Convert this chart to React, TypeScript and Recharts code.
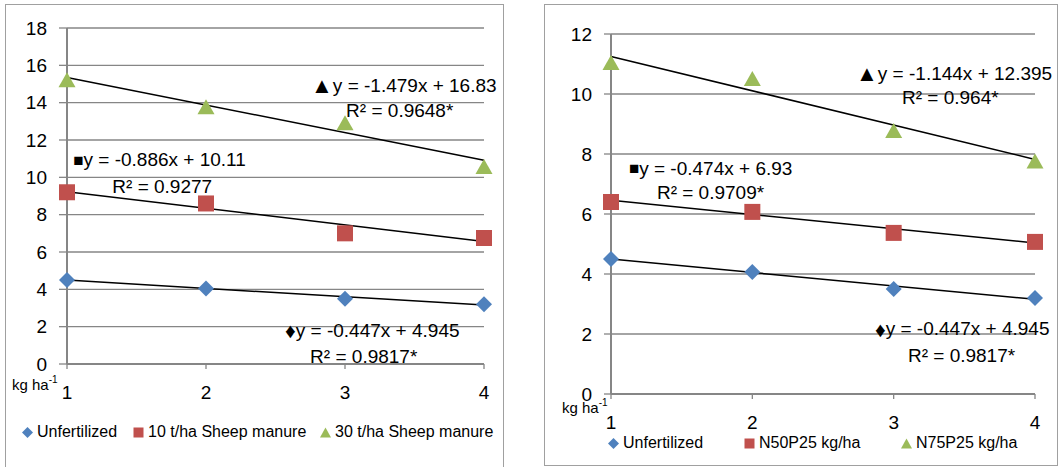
import React from 'react';
import {
	ScatterChart,
	Scatter,
	XAxis,
	YAxis,
	CartesianGrid,
	ReferenceLine,
	ReferenceDot,
	Legend,
	Label
} from 'recharts';

const xValues = [1, 2, 3, 4];
const xTicks = [1, 2, 3, 4];

const leftNames = ['Unfertilized', '10 t/ha Sheep manure', '30 t/ha Sheep manure'];
const leftUnfertilized = [4.5, 4.05, 3.5, 3.2];
const leftSheep10 = [9.2, 8.6, 7.0, 6.75];
const leftSheep30 = [15.2, 13.75, 12.9, 10.55];
const leftSlopes = [-0.447, -0.886, -1.479];
const leftIntercepts = [4.945, 10.11, 16.83];
const leftMarks = ['♦', '■', '▲'];
const leftEquations = ['y = -0.447x + 4.945', 'y = -0.886x + 10.11', 'y = -1.479x + 16.83'];
const leftR2 = ['R² = 0.9817*', 'R² = 0.9277', 'R² = 0.9648*'];
const leftYTicks = [0, 2, 4, 6, 8, 10, 12, 14, 16, 18];

const rightNames = ['Unfertilized', 'N50P25 kg/ha', 'N75P25 kg/ha'];
const rightUnfertilized = [4.5, 4.07, 3.5, 3.2];
const rightN50P25 = [6.4, 6.07, 5.37, 5.07];
const rightN75P25 = [11.03, 10.5, 8.77, 7.75];
const rightSlopes = [-0.447, -0.474, -1.144];
const rightIntercepts = [4.945, 6.93, 12.395];
const rightEquations = ['y = -0.447x + 4.945', 'y = -0.474x + 6.93', 'y = -1.144x + 12.395'];
const rightR2 = ['R² = 0.9817*', 'R² = 0.9709*', 'R² = 0.964*'];
const rightYTicks = [0, 2, 4, 6, 8, 10, 12];

// where the equation / R² text starts, in data units: [eqX, eqY, r2X, r2Y]
const leftNoteSpots = [
	[2.569, 1.82, 2.749, 0.4],
	[1.045, 10.93, 1.326, 9.53],
	[2.756, 14.94, 3.008, 13.6]
];
const rightNoteSpots = [
	[2.868, 2.17, 3.101, 1.3],
	[1.127, 7.53, 1.325, 6.73],
	[2.734, 10.7, 3.059, 9.87]
];

const colors = ['#4F81BD', '#C0504D', '#9BBB59'];
const GRID = '#868686';
const FONT = '"Liberation Sans", Arial, sans-serif';

const Diamond = (props: any) => {
	const { cx, cy, fill } = props;
	const r = 8;
	return (
		<polygon
			points={`${cx},${cy - r} ${cx + r},${cy} ${cx},${cy + r} ${cx - r},${cy}`}
			fill={fill}
		/>
	);
};

const Square = (props: any) => {
	const { cx, cy, fill } = props;
	return <rect x={cx - 8} y={cy - 8} width={16} height={16} fill={fill} />;
};

const Triangle = (props: any) => {
	const { cx, cy, fill } = props;
	return (
		<polygon
			points={`${cx},${cy - 8} ${cx + 8.5},${cy + 7} ${cx - 8.5},${cy + 7}`}
			fill={fill}
		/>
	);
};

const shapes = [Diamond, Square, Triangle];

const LegendIcon = ({ idx }: { idx: number }) => {
	const c = colors[idx];
	return (
		<svg width={11} height={11} style={{ marginRight: 4 }}>
			{idx === 0 && <polygon points="5.5,0 11,5.5 5.5,11 0,5.5" fill={c} />}
			{idx === 1 && <rect x={0.5} y={0.5} width={10} height={10} fill={c} />}
			{idx === 2 && <polygon points="5.5,0.5 11,10.5 0,10.5" fill={c} />}
		</svg>
	);
};

const makeLegend = (names: string[], lefts: number[]) => () => (
	<div style={{ position: 'relative', height: 20, fontFamily: FONT, fontSize: 16 }}>
		{names.map((n, i) => (
			<div
				key={n}
				style={{
					position: 'absolute',
					left: lefts[i],
					top: 0,
					height: 20,
					display: 'flex',
					alignItems: 'center',
					whiteSpace: 'nowrap',
					color: '#000'
				}}
			>
				<LegendIcon idx={i} />
				{n}
			</div>
		))}
	</div>
);

const markSize = [21, 17, 22];

const NoteText = (text: string, mark?: number) => (props: any) => (
	<text
		x={props.cx}
		y={props.cy}
		fontFamily={FONT}
		fontSize={19}
		fill="#000"
		dominantBaseline="central"
		textAnchor="start"
	>
		{mark !== undefined && <tspan fontSize={markSize[mark]}>{leftMarks[mark]}</tspan>}
		{text}
	</text>
);

const KgLabel = (dx: number, dy: number) => (props: any) => {
	const { x, y } = props.viewBox;
	return (
		<text x={x + dx} y={y + dy} fontFamily={FONT} fontSize={15} fill="#000" dominantBaseline="central">
			kg ha
			<tspan fontSize={10} dy={-5}>
				-1
			</tspan>
		</text>
	);
};

type PanelProps = {
	left: number;
	width: number;
	top: number;
	right: number;
	axisWidth: number;
	xAxisHeight: number;
	yMax: number;
	yTicks: number[];
	tickSize: number;
	series: number[][];
	names: string[];
	slopes: number[];
	intercepts: number[];
	equations: string[];
	r2: string[];
	spots: number[][];
	legendTop: number;
	legendLefts: number[];
	kg: [number, number];
};

const Panel = (p: PanelProps) => {
	return (
		<div style={{ position: 'absolute', left: p.left, top: 0 }}>
			<ScatterChart
				width={p.width}
				height={467}
				margin={{ top: p.top, right: p.right, bottom: 0, left: 0 }}
			>
				<CartesianGrid horizontal vertical={false} stroke={GRID} strokeWidth={1.3} />
				<XAxis
					type="number"
					dataKey="x"
					domain={[1, 4]}
					ticks={xTicks}
					height={p.xAxisHeight}
					axisLine={{ stroke: GRID, strokeWidth: 2 }}
					tickLine={{ stroke: GRID, strokeWidth: 1.3 }}
					tickSize={5}
					tickMargin={17}
					tick={{ fontSize: 19, fill: '#000', fontFamily: FONT }}
				>
					<Label content={KgLabel(p.kg[0], p.kg[1])} />
				</XAxis>
				<YAxis
					type="number"
					dataKey="y"
					domain={[0, p.yMax]}
					ticks={p.yTicks}
					width={p.axisWidth}
					axisLine={{ stroke: GRID, strokeWidth: 2 }}
					tickLine={{ stroke: GRID, strokeWidth: 1.3 }}
					tickSize={p.tickSize}
					tickMargin={12}
					tick={{ fontSize: 19, fill: '#000', fontFamily: FONT }}
				/>
				{p.series.map((vals, i) => (
					<Scatter
						key={p.names[i]}
						name={p.names[i]}
						data={vals.map((y, j) => ({ x: xValues[j], y }))}
						fill={colors[i]}
						shape={shapes[i]}
						isAnimationActive={false}
					/>
				))}
				{p.slopes.map((a, i) => (
					<ReferenceLine
						key={'t' + i}
						segment={[
							{ x: 1, y: a * 1 + p.intercepts[i] },
							{ x: 4, y: a * 4 + p.intercepts[i] }
						]}
						stroke="#000"
						strokeWidth={1.5}
					/>
				))}
				{p.spots.map((s, i) => (
					<ReferenceDot key={'e' + i} x={s[0]} y={s[1]} r={0} shape={NoteText(p.equations[i], i)} />
				))}
				{p.spots.map((s, i) => (
					<ReferenceDot key={'r' + i} x={s[2]} y={s[3]} r={0} shape={NoteText(p.r2[i])} />
				))}
				<Legend
					verticalAlign="bottom"
					content={makeLegend(p.names, p.legendLefts)}
					wrapperStyle={{ left: 0, top: p.legendTop, width: p.width, height: 20 }}
				/>
			</ScatterChart>
		</div>
	);
};

const App = () => {
	return (
		<div
			style={{
				position: 'absolute',
				left: 0,
				top: 0,
				width: 1059,
				height: 467,
				overflow: 'hidden',
				background: '#fff'
			}}
		>
			<div
				style={{
					position: 'absolute',
					left: 5,
					top: 4,
					width: 497,
					height: 480,
					border: '1px solid #a0a0a0'
				}}
			/>
			<div
				style={{
					position: 'absolute',
					left: 544,
					top: 4,
					width: 512,
					height: 460,
					border: '1px solid #a0a0a0'
				}}
			/>
			<Panel
				left={0}
				width={503}
				top={28}
				right={19}
				axisWidth={67}
				xAxisHeight={83}
				yMax={18}
				yTicks={leftYTicks}
				tickSize={8}
				series={[leftUnfertilized, leftSheep10, leftSheep30]}
				names={leftNames}
				slopes={leftSlopes}
				intercepts={leftIntercepts}
				equations={leftEquations}
				r2={leftR2}
				spots={leftNoteSpots}
				legendTop={422}
				legendLefts={[22, 133, 320]}
				kg={[-55, 20]}
			/>
			<Panel
				left={540}
				width={519}
				top={34}
				right={24}
				axisWidth={71}
				xAxisHeight={53}
				yMax={12}
				yTicks={rightYTicks}
				tickSize={7}
				series={[rightUnfertilized, rightN50P25, rightN75P25]}
				names={rightNames}
				slopes={rightSlopes}
				intercepts={rightIntercepts}
				equations={rightEquations}
				r2={rightR2}
				spots={rightNoteSpots}
				legendTop={433}
				legendLefts={[68, 204, 361]}
				kg={[-49, 13]}
			/>
		</div>
	);
};

export default App;
